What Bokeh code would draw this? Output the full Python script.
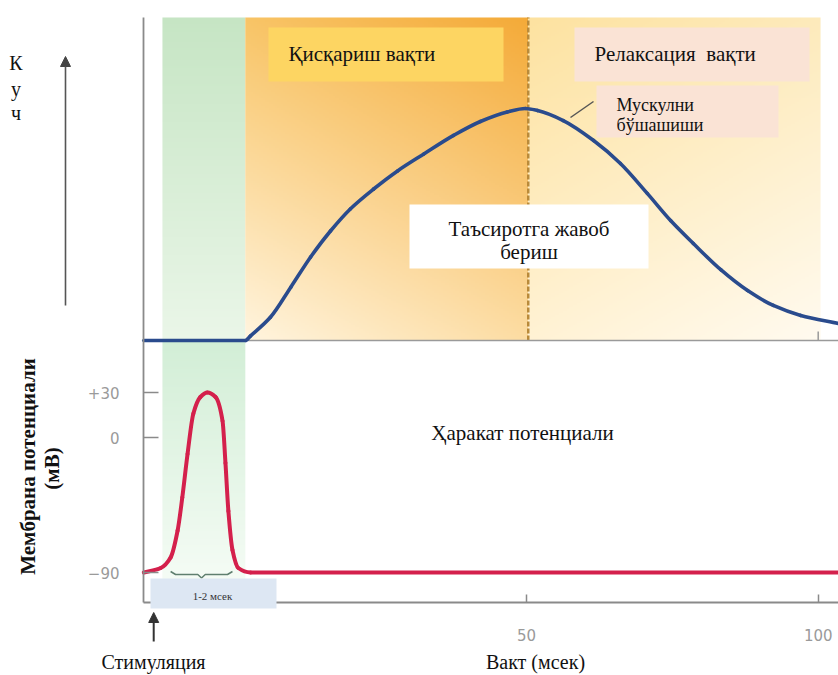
import math
import numpy as np
from bokeh.plotting import figure
from bokeh.models import (Range1d, FixedTicker, Label, Arrow, NormalHead,
                          BoxAnnotation)
from bokeh.core.properties import value
from bokeh.embed import file_html
from bokeh.resources import INLINE

# ---------------- data ----------------
# muscle force (relative to peak) vs time (ms)
force_t_ms = [-15.6, 1.8, 2.7, 6.1, 9.6, 13.0, 16.4, 19.8, 23.8, 27.9, 32.4,
              37.5, 42.1, 46.7, 49.8, 51.9, 56.3, 61.5, 66.1, 70.7, 74.7,
              78.6, 83.3, 87.9, 92.3, 97.0, 103.5]
force_rel = [0.0, 0.0, 0.02, 0.10, 0.23, 0.36, 0.472, 0.567, 0.653, 0.731,
             0.804, 0.884, 0.944, 0.985, 1.0, 0.991, 0.948, 0.862, 0.763,
             0.634, 0.517, 0.418, 0.305, 0.215, 0.151, 0.108, 0.073]

# action potential (mV) vs time (ms)
ap_t_ms = [-15.6, -12.7, -11.0, -9.8, -9.0, -8.1, -7.1, -5.9, -4.7, -3.3,
           -2.1, -1.6, -1.1, -0.4, 0.6, 2.7, 103.5]
ap_mv = [-90, -87, -80, -62, -40, -11, 16, 27, 30, 27, 11, -17, -49, -75,
         -87, -90, -90]

mv_ticks = [-90, 0, 30]
mv_tick_labels = ["\u221290", "0", "+30"]
time_ticks = [50, 100]
time_tick_labels = ["50", "100"]

# phases: latent period, contraction time, relaxation time
phase_start_ms = [-12.4, 1.8, 50.3]
phase_end_ms = [1.8, 50.3, 100.4]
stim_ms = -13.9
ap_duration_ms = [-11.0, -0.4]

# ---------------- layout (pixels) ----------------
W, H = 838, 675
AXL, AXR, AXT, AXB = 143, 838, 17, 602
ZERO_PX, PX_PER_MS = 234.3, 5.834
MV30_PX, PX_PER_MV = 392.0, 1.5
F0_PX, PX_PER_F = 340.0, 232.0


def X(px):
    return (px - ZERO_PX) / PX_PER_MS


def MV(py):
    return 30 - (py - MV30_PX) / PX_PER_MV


def F(py):
    return (F0_PX - py) / PX_PER_F


F_TOP = F(AXT)

p = figure(width=W, height=H, output_backend="svg", toolbar_location=None,
           x_range=Range1d(X(0), X(W)), y_range=Range1d(MV(H), MV(0)),
           min_border=0)
p.extra_y_ranges = {"force": Range1d(F(H), F(0))}
p.outline_line_color = None
p.grid.visible = False
p.background_fill_color = "white"
p.border_fill_color = "white"

AX = "#8a8a8a"
for ax in (p.xaxis[0], p.yaxis[0]):
    ax.axis_line_color = AX
    ax.axis_line_width = 1.8
    ax.major_tick_line_color = AX
    ax.major_tick_line_width = 1.5
    ax.minor_tick_line_color = None
    ax.major_tick_out = 0
    ax.major_label_text_font = "DejaVu Sans"
    ax.major_label_text_font_size = "15px"
    ax.major_label_text_color = "#9a9a9a"

yax = p.yaxis[0]
yax.fixed_location = X(AXL)
yax.bounds = (MV(AXB), MV(AXT))
yax.ticker = FixedTicker(ticks=mv_ticks)
yax.major_label_overrides = dict(zip(mv_ticks, mv_tick_labels))
yax.major_tick_in = 15
yax.major_label_standoff = 24
xax = p.xaxis[0]
xax.fixed_location = MV(AXB)
xax.bounds = (X(AXL), X(AXR))
xax.ticker = FixedTicker(ticks=time_ticks)
xax.major_label_overrides = dict(zip(time_ticks, time_tick_labels))
xax.major_tick_in = 8
xax.major_label_standoff = 26


# ---------------- gradient backgrounds ----------------
def hexrgb(h):
    return np.array([int(h[1:3], 16), int(h[3:5], 16), int(h[5:7], 16)], float)


def grad_image(nx, ny, tl, tr, bl, br):
    u = np.linspace(0, 1, nx)[None, :, None]
    v = np.linspace(0, 1, ny)[:, None, None]  # 0 = bottom row
    bottom = (1 - u) * hexrgb(bl) + u * hexrgb(br)
    top = (1 - u) * hexrgb(tl) + u * hexrgb(tr)
    col = (1 - v) * bottom + v * top
    img = np.empty((ny, nx), dtype=np.uint32)
    view = img.view(dtype=np.uint8).reshape((ny, nx, 4))
    view[..., 0:3] = np.clip(col.round(), 0, 255).astype(np.uint8)
    view[..., 3] = 255
    return img


top_colors = [("#c6e5c4", "#c6e5c4", "#eaf6e8", "#eaf6e8"),
              ("#f8c466", "#f4aa38", "#fff4de", "#fcdca2"),
              ("#fde2a0", "#fdeabb", "#fff2d4", "#fffaef")]
nyt = int((F0_PX - AXT) / 2)
for s, e, c in zip(phase_start_ms, phase_end_ms, top_colors):
    nx = max(2, int((e - s) * PX_PER_MS / 2))
    p.image_rgba(image=[grad_image(nx, nyt, *c)], x=s, y=0, dw=e - s,
                 dh=F_TOP, y_range_name="force")

# green latent band continues in the lower panel
low_bottom = F(590)
nyl = int((590 - F0_PX) / 2)
nxl = max(2, int((phase_end_ms[0] - phase_start_ms[0]) * PX_PER_MS / 2))
p.image_rgba(image=[grad_image(nxl, nyl, "#d2eed6", "#d2eed6", "#f6fcf6",
                               "#f6fcf6")],
             x=phase_start_ms[0], y=low_bottom,
             dw=phase_end_ms[0] - phase_start_ms[0], dh=-low_bottom,
             y_range_name="force")

# dashed line at end of contraction
p.segment(x0=[phase_end_ms[1]], x1=[phase_end_ms[1]], y0=[0], y1=[F_TOP],
          line_color="#b98a3a", line_width=2.5, line_dash="5 2",
          y_range_name="force")

# separator / baseline of upper panel
p.segment(x0=[X(AXL)], x1=[X(AXR)], y0=[0], y1=[0], line_color="#9a9a9a",
          line_width=1.6, y_range_name="force")
p.segment(x0=[time_ticks[1]], x1=[time_ticks[1]], y0=[0], y1=[F(331)],
          line_color="#9a9a9a", line_width=1.5, y_range_name="force")

# ---------------- text boxes ----------------
boxes = [((268, 503, 27, 81), "#fdd562"),
         ((574, 809, 27, 81), "#fae3d5"),
         ((596, 778, 85, 137), "#fae3d5"),
         ((409, 648, 204, 268), "#ffffff")]
for (x0, x1, y0, y1), col in boxes:
    p.quad(left=[X(x0)], right=[X(x1)], top=[F(y0)], bottom=[F(y1)],
           fill_color=col, line_color=None, y_range_name="force")

SERIF = value("Liberation Serif")
p.text(x=[X(288), X(594)], y=[F(53), F(53)],
       text=["Қисқариш вақти", "Релаксация\u00a0 вақти"], text_font=SERIF,
       text_font_size="21px", text_align="left", text_baseline="middle",
       text_color="#111111", y_range_name="force")
p.text(x=[X(616), X(616)], y=[F(104), F(124)],
       text=["Мускулни", "бўшашиши"], text_font=SERIF,
       text_font_size="18px", text_align="left", text_baseline="middle",
       text_color="#111111", y_range_name="force")
p.text(x=[X(528.5), X(528.5)], y=[F(228), F(251)],
       text=["Таъсиротга жавоб", "бериш"], text_font=SERIF,
       text_font_size="21px", text_align="center", text_baseline="middle",
       text_color="#111111", y_range_name="force")
p.text(x=[X(522)], y=[F(432)], text=["Ҳаракат потенциали"], text_font=SERIF,
       text_font_size="21px", text_align="center", text_baseline="middle",
       text_color="#111111", y_range_name="force")

# pointer line to the note
p.segment(x0=[X(570)], x1=[X(593)], y0=[F(117)], y1=[F(101)],
          line_color="#555555", line_width=1.5, y_range_name="force")


# ---------------- curves (smooth monotone cubic through read points) ------
def pchip_bezier(xs, ys):
    xs = np.asarray(xs, float)
    ys = np.asarray(ys, float)
    h = np.diff(xs)
    d = np.diff(ys) / h
    n = len(xs)
    m = np.zeros(n)
    m[0], m[-1] = d[0], d[-1]
    for k in range(1, n - 1):
        if d[k - 1] * d[k] <= 0:
            m[k] = 0.0
        else:
            w1 = 2 * h[k] + h[k - 1]
            w2 = h[k] + 2 * h[k - 1]
            m[k] = (w1 + w2) / (w1 / d[k - 1] + w2 / d[k])
    return dict(x0=xs[:-1], y0=ys[:-1], x1=xs[1:], y1=ys[1:],
                cx0=xs[:-1] + h / 3, cy0=ys[:-1] + m[:-1] * h / 3,
                cx1=xs[1:] - h / 3, cy1=ys[1:] - m[1:] * h / 3)


p.bezier(**pchip_bezier(force_t_ms, force_rel), line_color="#2a4b8d",
         line_width=3.6, line_cap="round", y_range_name="force")
p.bezier(**pchip_bezier(ap_t_ms, ap_mv), line_color="#d4204c",
         line_width=4, line_cap="round")

# bracket under the spike
a, b = ap_duration_ms
w = b - a
m = (a + b) / 2
p.line([a, a + 0.08 * w, m - 0.06 * w, m, m + 0.06 * w, b - 0.08 * w, b],
       [MV(571), MV(574), MV(574), MV(577.5), MV(574), MV(574), MV(571)],
       line_color="#5f7f6f", line_width=1.5)

# duration box (drawn above the axis line)
p.add_layout(BoxAnnotation(left=X(150), right=X(276), top=MV(578),
                           bottom=MV(608), fill_color="#dde7f3",
                           fill_alpha=1.0, line_color=None, level="overlay"))
p.add_layout(Label(x=X(212), y=MV(595), text="1-2 мсек",
                   text_font="Liberation Serif", text_font_size="11px",
                   text_align="center", text_baseline="middle",
                   text_color="#333333", level="overlay"))


# ---------------- labels around the axes ----------------
def lab(px, py, text, size="19px", align="center", baseline="middle",
        angle=0.0, style="normal"):
    p.add_layout(Label(x=X(px), y=F(py), y_range_name="force", text=text,
                       text_font="Liberation Serif", text_font_size=size,
                       text_align=align, text_baseline=baseline,
                       angle=angle, text_font_style=style,
                       text_color="#111111"))


for py, ch in zip([62, 88, 112], ["К", "у", "ч"]):
    lab(15.5, py, ch, size="20px")
lab(27, 466, "Мембрана потенциали", size="21px", angle=math.pi / 2,
    style="bold")
lab(51, 468, "(мВ)", size="21px", angle=math.pi / 2, style="bold")
lab(153, 661, "Стимуляция", size="20px")
lab(535, 661, "Вакт (мсек)", size="20px")

p.add_layout(Arrow(end=NormalHead(size=10, fill_color="#444444",
                                  line_color="#444444"),
                   x_start=X(65), y_start=F(305), x_end=X(65), y_end=F(56),
                   line_color="#555555", line_width=1.6,
                   y_range_name="force"))
p.add_layout(Arrow(end=NormalHead(size=10, fill_color="#333333",
                                  line_color="#333333"),
                   x_start=stim_ms, y_start=F(641), x_end=stim_ms,
                   y_end=F(612), line_color="#333333", line_width=2,
                   y_range_name="force"))

open("out.html", "w").write(file_html(p, INLINE))
